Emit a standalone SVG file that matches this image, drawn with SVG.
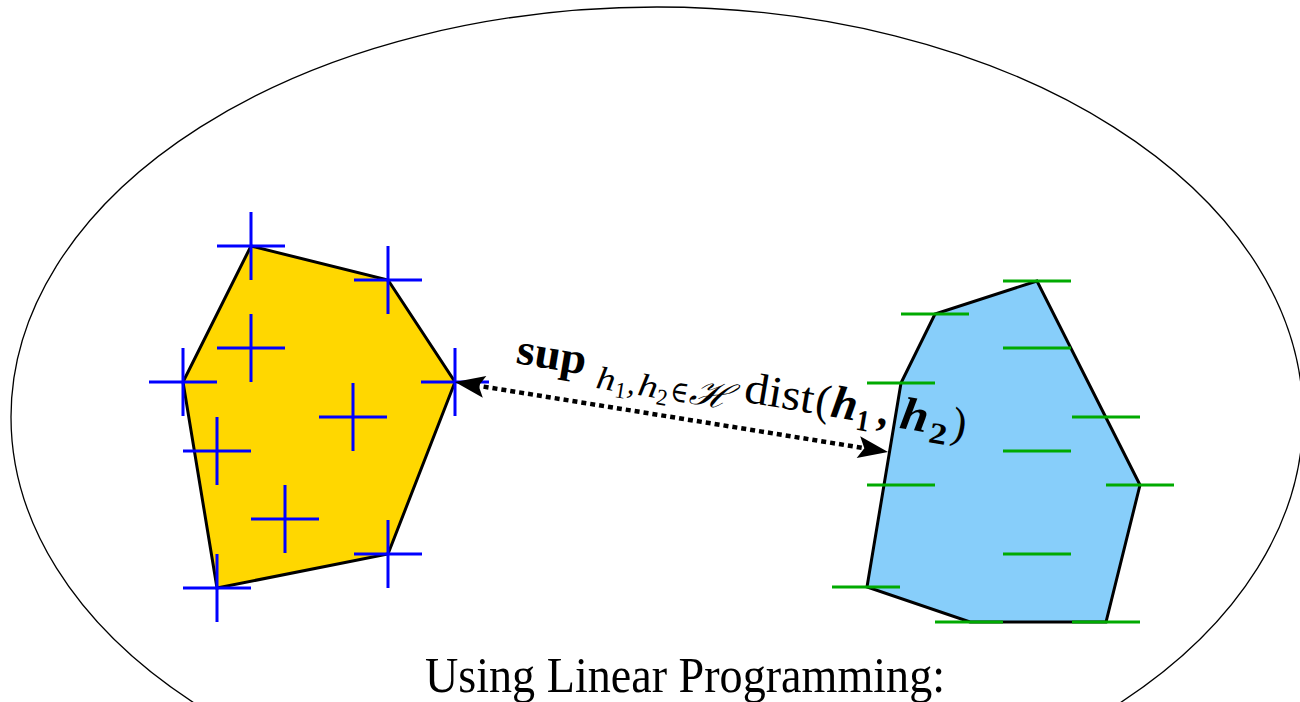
<svg xmlns="http://www.w3.org/2000/svg" width="1300" height="702" viewBox="0 0 1300 702">
<style>
.poly{stroke:#000;stroke-width:3;stroke-linejoin:miter}
.plus{stroke:#0000ff;stroke-width:3;fill:none}
.minus{stroke:#00aa00;stroke-width:3;fill:none}
.lbl{font-family:"Liberation Serif","DejaVu Serif",serif;fill:#000}
</style>
<defs>
<marker id="ah" markerUnits="userSpaceOnUse" markerWidth="1" markerHeight="1" refX="0" refY="0" orient="auto-start-reverse" overflow="visible">
<path d="M20,0 L-10,-11 L-4,0 L-10,11 Z" fill="#000"/>
</marker>
</defs>
<rect width="1300" height="702" fill="#fff"/>
<g id="boundary">
<ellipse cx="657" cy="417" rx="646" ry="410" fill="none" stroke="#000" stroke-width="1.3"/>
</g>
<g id="positive-set">
<polygon class="poly" fill="#ffd700" points="251,246 388,280 455,382 388,554 217,588 183,382"/>
<path class="plus" d="M217,246h68M251,212v68 M354,280h68M388,246v68 M421,382h68M455,348v68 M354,554h68M388,520v68 M183,588h68M217,554v68 M149,382h68M183,348v68 M217,348h68M251,314v68 M319,417h68M353,383v68 M183,451h68M217,417v68 M251,519h68M285,485v68"/>
</g>
<g id="negative-set">
<polygon class="poly" fill="#87cefa" points="1037,281 935,314 901,383 867,587 970,622 1106,622 1140,485"/>
<path class="minus" d="M1003,281h68 M901,314h68 M1003,348h68 M867,383h68 M1072,417h68 M1003,451h68 M867,485h68 M1106,485h68 M1003,554h68 M832,587h68 M935,622h68 M1072,622h68"/>
</g>
<g id="connectors">
<line x1="474.7" y1="385.2" x2="868.3" y2="448.8" stroke="#000" stroke-width="4.5" stroke-dasharray="5 4" marker-start="url(#ah)" marker-end="url(#ah)"/>
</g>
<g id="label" class="lbl" transform="translate(515,363) rotate(9.6)">
<text x="0" y="0" font-size="44" font-weight="bold" textLength="70" lengthAdjust="spacingAndGlyphs">sup</text>
<text x="83" y="11" font-size="32" font-style="italic" textLength="19" lengthAdjust="spacingAndGlyphs">h</text>
<text x="103" y="17" font-size="23" textLength="11" lengthAdjust="spacingAndGlyphs">1</text>
<text x="115" y="11" font-size="32" font-style="italic">,</text>
<text x="125" y="11" font-size="32" font-style="italic" textLength="20" lengthAdjust="spacingAndGlyphs">h</text>
<text x="145" y="17" font-size="23" textLength="11" lengthAdjust="spacingAndGlyphs">2</text>
<text x="158" y="11" font-size="30" textLength="18" lengthAdjust="spacingAndGlyphs">∈</text>
<text x="177" y="11" font-size="36" font-style="italic" textLength="41" lengthAdjust="spacingAndGlyphs">ℋ</text>
<text x="231" y="0" font-size="44" textLength="70" lengthAdjust="spacingAndGlyphs">dist</text>
<text x="303" y="0" font-size="44">(</text>
<text x="319" y="0" font-size="46" font-weight="bold" font-style="italic" textLength="26" lengthAdjust="spacingAndGlyphs">h</text>
<text x="346" y="9" font-size="30" font-weight="bold" textLength="13" lengthAdjust="spacingAndGlyphs">1</text>
<text x="368" y="0" font-size="44" font-weight="bold" font-style="italic">,</text>
<text x="389" y="0" font-size="46" font-weight="bold" font-style="italic" textLength="28" lengthAdjust="spacingAndGlyphs">h</text>
<text x="420" y="9" font-size="30" font-weight="bold" textLength="18" lengthAdjust="spacingAndGlyphs">2</text>
<text x="441" y="0" font-size="44">)</text>
</g>
<g id="caption">
<text class="lbl" x="685" y="692" font-size="50" text-anchor="middle" textLength="520" lengthAdjust="spacingAndGlyphs">Using Linear Programming:</text>
</g>
</svg>
